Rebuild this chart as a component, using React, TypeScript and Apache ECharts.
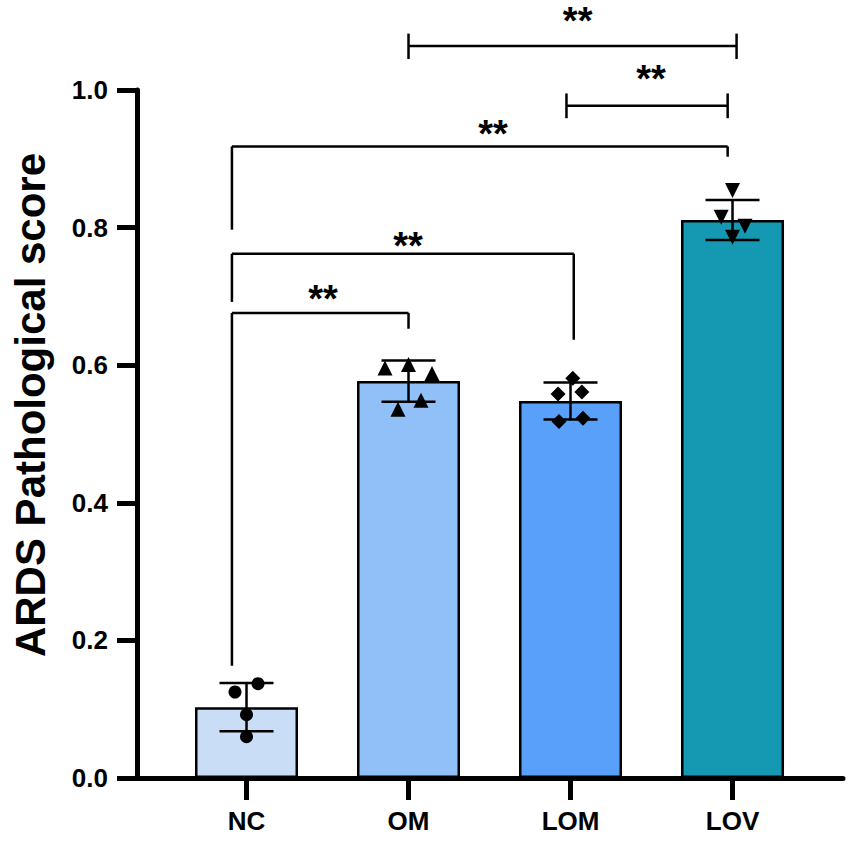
import React, { useEffect, useRef } from "react";
import * as echarts from "echarts";

const CATEGORIES = ["NC", "OM", "LOM", "LOV"];
const BAR_MEANS = [0.103, 0.577, 0.548, 0.811];
const BAR_SD = [0.035, 0.03, 0.027, 0.029];
const BAR_COLORS = ["#C9DEF6", "#91BFF8", "#58A0F9", "#1598B2"];

const NC_JITTER = [-0.071, 0.071, 0, 0];
const NC_VALUES = [0.125, 0.137, 0.092, 0.06];
const OM_JITTER = [-0.145, 0, 0.145, 0.077, -0.065];
const OM_VALUES = [0.596, 0.601, 0.588, 0.549, 0.536];
const LOM_JITTER = [0.014, -0.077, 0.07, -0.071, 0.077];
const LOM_VALUES = [0.581, 0.558, 0.561, 0.518, 0.523];
const LOV_JITTER = [0, -0.07, 0.077, 0];
const LOV_VALUES = [0.854, 0.815, 0.802, 0.786];

const Y_TICKS = [0, 0.2, 0.4, 0.6, 0.8, 1.0];

// comparisons: from x, to x (category units), bar height, left leg [top, bottom], right leg [top, bottom], label x, label y
const BRACKET_FROM = [-0.09, -0.09, -0.09, 1.975, 1.0];
const BRACKET_TO = [1.0, 2.02, 2.97, 2.97, 3.025];
const BRACKET_Y = [0.676, 0.762, 0.918, 0.977, 1.064];
const LEFT_LEG = [
  [0.676, 0.163],
  [0.762, 0.692],
  [0.918, 0.797],
  [0.995, 0.959],
  [1.082, 1.045],
];
const RIGHT_LEG = [
  [0.676, 0.653],
  [0.762, 0.637],
  [0.918, 0.903],
  [0.995, 0.959],
  [1.082, 1.045],
];
const BRACKET_LABELS = ["**", "**", "**", "**", "**"];
const LABEL_X = [0.472, 0.997, 1.522, 2.497, 2.044];
const LABEL_Y = [0.705, 0.782, 0.946, 1.025, 1.109];

const FONT = '"Liberation Sans", Arial, sans-serif';

export default function App() {
  const ref = useRef<HTMLDivElement>(null);

  useEffect(() => {
    document.body.style.margin = "0";
    const chart = echarts.init(ref.current!, null, { renderer: "svg" });

    const pointSeries = (
      jit: number[],
      vals: number[],
      idx: number,
      symbol: string,
      size: number,
      rotate = 0
    ) => ({
      type: "scatter",
      data: vals.map((v, k) => [idx + jit[k], v]),
      symbol,
      symbolSize: size,
      symbolRotate: rotate,
      itemStyle: { color: "#000", opacity: 1 },
      z: 5,
    });

    const option: any = {
      animation: false,
      grid: { left: 137, right: 8, top: 90, bottom: 64 },
      xAxis: {
        type: "value",
        min: -0.676,
        max: 3.682,
        splitLine: { show: false },
        axisLine: { show: true, onZero: false, lineStyle: { color: "#000", width: 5 } },
        axisTick: {
          show: true,
          length: 22,
          customValues: [0, 1, 2, 3],
          lineStyle: { color: "#000", width: 5 },
        },
        axisLabel: {
          show: true,
          customValues: [0, 1, 2, 3],
          formatter: (v: number) => CATEGORIES[Math.round(v)] ?? "",
          margin: 30,
          color: "#000",
          fontSize: 26,
          fontWeight: "bold",
          fontFamily: FONT,
        },
      },
      yAxis: {
        type: "value",
        min: 0,
        max: 1,
        interval: 0.2,
        splitLine: { show: false },
        axisLine: { show: true, onZero: false, lineStyle: { color: "#000", width: 5 } },
        axisTick: { show: true, length: 20, lineStyle: { color: "#000", width: 5 } },
        axisLabel: {
          margin: 29,
          color: "#000",
          fontSize: 26,
          fontWeight: "bold",
          fontFamily: FONT,
          formatter: (v: number) => (Y_TICKS.includes(Math.round(v * 10) / 10) ? v.toFixed(1) : ""),
        },
      },
      graphic: [
        {
          type: "text",
          x: 30,
          y: 405,
          rotation: Math.PI / 2,
          style: {
            text: "ARDS Pathological score",
            font: `bold 42px ${FONT}`,
            align: "center",
            verticalAlign: "middle",
            fill: "#000",
          },
        },
      ],
      series: [
        {
          type: "bar",
          barWidth: 103,
          data: BAR_MEANS.map((m, i) => ({
            value: [i, m],
            itemStyle: { color: BAR_COLORS[i] },
          })),
          itemStyle: { borderColor: "#000", borderWidth: 2.5 },
          z: 2,
        },
        {
          type: "custom",
          clip: false,
          z: 4,
          data: BAR_MEANS.map((m, i) => [i, m - BAR_SD[i], m + BAR_SD[i]]),
          encode: { x: 0, y: [1, 2] },
          renderItem: (params: any, api: any) => {
            const x = api.value(0);
            const lo = api.coord([x, api.value(1)]);
            const hi = api.coord([x, api.value(2)]);
            const hw = 27;
            const st = { stroke: "#000", lineWidth: 2.5 };
            return {
              type: "group",
              children: [
                { type: "line", shape: { x1: lo[0], y1: lo[1], x2: hi[0], y2: hi[1] }, style: st },
                { type: "line", shape: { x1: hi[0] - hw, y1: hi[1], x2: hi[0] + hw, y2: hi[1] }, style: st },
                { type: "line", shape: { x1: lo[0] - hw, y1: lo[1], x2: lo[0] + hw, y2: lo[1] }, style: st },
              ],
            };
          },
        },
        pointSeries(NC_JITTER, NC_VALUES, 0, "circle", 13),
        pointSeries(OM_JITTER, OM_VALUES, 1, "triangle", 15),
        pointSeries(LOM_JITTER, LOM_VALUES, 2, "diamond", 15),
        pointSeries(LOV_JITTER, LOV_VALUES, 3, "triangle", 15, 180),
        {
          type: "custom",
          clip: false,
          z: 6,
          data: BRACKET_FROM.map((f, i) => [
            f,
            BRACKET_TO[i],
            BRACKET_Y[i],
            LEFT_LEG[i][0],
            LEFT_LEG[i][1],
            RIGHT_LEG[i][0],
            RIGHT_LEG[i][1],
            LABEL_X[i],
            LABEL_Y[i],
          ]),
          encode: { x: [0, 1], y: [2] },
          renderItem: (params: any, api: any) => {
            const i = params.dataIndex;
            const x1 = api.value(0);
            const x2 = api.value(1);
            const y = api.value(2);
            const a = api.coord([x1, y]);
            const b = api.coord([x2, y]);
            const l1 = api.coord([x1, api.value(3)]);
            const l2 = api.coord([x1, api.value(4)]);
            const r1 = api.coord([x2, api.value(5)]);
            const r2 = api.coord([x2, api.value(6)]);
            const lab = api.coord([api.value(7), api.value(8)]);
            const st = { stroke: "#000", lineWidth: 2.5, fill: null };
            const fs = 38;
            return {
              type: "group",
              children: [
                { type: "line", shape: { x1: a[0], y1: a[1], x2: b[0], y2: b[1] }, style: st },
                { type: "line", shape: { x1: l1[0], y1: l1[1], x2: l2[0], y2: l2[1] }, style: st },
                { type: "line", shape: { x1: r1[0], y1: r1[1], x2: r2[0], y2: r2[1] }, style: st },
                {
                  type: "text",
                  x: lab[0],
                  y: lab[1] + fs * 0.17,
                  style: {
                    text: BRACKET_LABELS[i],
                    font: `bold ${fs}px ${FONT}`,
                    align: "center",
                    verticalAlign: "middle",
                    fill: "#000",
                  },
                },
              ],
            };
          },
        },
      ],
    };

    chart.setOption(option);
    return () => chart.dispose();
  }, []);

  return <div ref={ref} style={{ width: 851, height: 842 }} />;
}
